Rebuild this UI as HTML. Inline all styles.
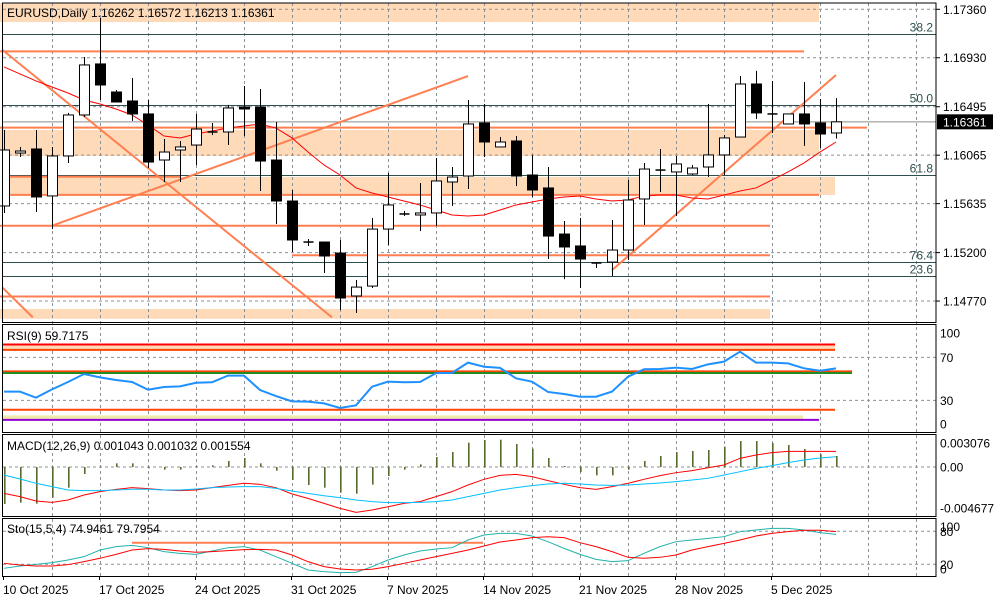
<!DOCTYPE html>
<html><head><meta charset="utf-8"><style>
html,body{margin:0;padding:0;background:#fff;}
svg{display:block;font-family:"Liberation Sans",sans-serif;}
</style></head><body>
<svg id="c" width="1000" height="600" viewBox="0 0 1000 600" xmlns="http://www.w3.org/2000/svg"></svg>
<script>
// ---- price data (per daily candle) ----
const opens=[1.15614,1.16084,1.16120,1.15703,1.16058,1.16422,1.16875,1.16626,1.16546,1.16431,1.16022,1.16111,1.16155,1.16271,1.16271,1.16493,1.16493,1.16022,1.15658,1.15294,1.15294,1.15196,1.14815,1.14903,1.15409,1.15543,1.15534,1.15552,1.15827,1.15880,1.16351,1.16138,1.16191,1.15889,1.15774,1.15365,1.15259,1.15108,1.15116,1.15223,1.15676,1.15933,1.15916,1.15898,1.15960,1.16067,1.16226,1.16697,1.16431,1.16342,1.16431,1.16351,1.16262];
const highs=[1.16289,1.16138,1.16289,1.16138,1.16440,1.16937,1.17283,1.16644,1.16750,1.16555,1.16209,1.16191,1.16431,1.16351,1.16511,1.16679,1.16653,1.16360,1.15756,1.15321,1.15294,1.15312,1.14957,1.15507,1.15907,1.15569,1.15818,1.16040,1.15960,1.16555,1.16519,1.16226,1.16235,1.16067,1.15960,1.15481,1.15507,1.15108,1.15489,1.15845,1.15996,1.16120,1.16058,1.15978,1.16519,1.16244,1.16768,1.16813,1.16724,1.16431,1.16715,1.16564,1.16572];
const lows=[1.15552,1.16049,1.15560,1.15409,1.15996,1.16404,1.16555,1.16537,1.16369,1.15951,1.15827,1.15827,1.15978,1.16244,1.16155,1.16235,1.15747,1.15454,1.15205,1.15259,1.15019,1.14690,1.14664,1.14886,1.15267,1.15525,1.15392,1.15436,1.15614,1.15765,1.16049,1.16138,1.15791,1.15694,1.15143,1.14965,1.14886,1.15063,1.14992,1.15134,1.15445,1.15738,1.15525,1.15889,1.15871,1.15889,1.16226,1.16386,1.16262,1.16342,1.16147,1.16129,1.16213];
const closes=[1.16111,1.16102,1.15694,1.16058,1.16422,1.16866,1.16688,1.16537,1.16431,1.16004,1.16093,1.16138,1.16297,1.16262,1.16484,1.16475,1.16013,1.15658,1.15312,1.15294,1.15170,1.14797,1.14894,1.15409,1.15623,1.15543,1.15552,1.15836,1.15871,1.16342,1.16182,1.16182,1.15880,1.15756,1.15347,1.15250,1.15143,1.15108,1.15223,1.15667,1.15942,1.15933,1.15987,1.15951,1.16067,1.16218,1.16697,1.16440,1.16431,1.16431,1.16342,1.16253,1.16361];
const maValues=[1.16848,1.16786,1.16724,1.16670,1.16617,1.16555,1.16519,1.16475,1.16422,1.16333,1.16235,1.16218,1.16253,1.16280,1.16306,1.16324,1.16342,1.16306,1.16218,1.16093,1.15978,1.15889,1.15774,1.15729,1.15694,1.15658,1.15623,1.15578,1.15534,1.15525,1.15534,1.15578,1.15623,1.15649,1.15676,1.15694,1.15703,1.15676,1.15658,1.15667,1.15703,1.15711,1.15711,1.15685,1.15676,1.15711,1.15747,1.15774,1.15845,1.15916,1.15996,1.16093,1.16182];
const priceTicks=[1.17360,1.16930,1.16495,1.16065,1.15635,1.15200,1.14770];
const lastPrice=1.16361;
// ---- indicators ----
const rsiValues=[38.1,38.1,32.5,40.2,47.1,54.5,51.4,48.9,47.1,39.9,42.4,43.0,46.4,46.8,53.0,53.0,39.6,34.0,29.1,28.8,27.2,22.9,25.4,42.7,47.4,46.8,47.1,55.3,55.6,65.1,61.3,60.2,50.5,47.4,37.8,35.9,33.4,33.4,38.1,52.0,58.9,59.2,60.4,59.2,63.5,66.0,75.3,65.1,65.1,64.4,59.8,57.6,59.7];
const rsiTicks=[100,70,30,0];
const macdHist=[-0.00474,-0.00457,-0.00470,-0.00393,-0.00265,-0.00090,0.00002,0.00047,0.00047,-0.00017,-0.00034,-0.00034,0.00009,0.00021,0.00077,0.00115,0.00047,-0.00047,-0.00167,-0.00231,-0.00265,-0.00329,-0.00342,-0.00226,-0.00115,-0.00034,0.00034,0.00128,0.00192,0.00312,0.00346,0.00350,0.00295,0.00235,0.00115,0.00013,-0.00064,-0.00107,-0.00107,-0.00034,0.00077,0.00141,0.00192,0.00205,0.00218,0.00261,0.00333,0.00333,0.00308,0.00282,0.00231,0.00167,0.00141];
const macdRed=[-0.00338,-0.00380,-0.00436,-0.00453,-0.00423,-0.00359,-0.00316,-0.00286,-0.00265,-0.00278,-0.00295,-0.00303,-0.00295,-0.00265,-0.00235,-0.00209,-0.00222,-0.00265,-0.00346,-0.00402,-0.00466,-0.00530,-0.00581,-0.00551,-0.00509,-0.00466,-0.00444,-0.00380,-0.00316,-0.00231,-0.00158,-0.00107,-0.00094,-0.00124,-0.00175,-0.00222,-0.00265,-0.00286,-0.00252,-0.00209,-0.00158,-0.00111,-0.00073,-0.00047,-0.00009,0.00026,0.00111,0.00154,0.00184,0.00201,0.00201,0.00201,0.00201];
const macdBlue=[-0.00103,-0.00154,-0.00209,-0.00252,-0.00295,-0.00303,-0.00303,-0.00295,-0.00286,-0.00286,-0.00295,-0.00295,-0.00282,-0.00265,-0.00256,-0.00252,-0.00252,-0.00274,-0.00308,-0.00338,-0.00368,-0.00393,-0.00423,-0.00444,-0.00457,-0.00457,-0.00453,-0.00444,-0.00423,-0.00380,-0.00338,-0.00295,-0.00265,-0.00239,-0.00218,-0.00209,-0.00218,-0.00231,-0.00235,-0.00231,-0.00218,-0.00205,-0.00188,-0.00167,-0.00145,-0.00103,-0.00060,-0.00017,0.00017,0.00056,0.00090,0.00115,0.00132];
const macdTicks=[0.003076,0.00,-0.004677];
const macdTickLabels=["0.003076","0.00","-0.004677"];
const stochMain=[12.7,16.9,19.9,23.0,27.8,33.9,46.0,52.1,54.5,50.2,43.0,39.9,38.1,44.2,50.2,52.1,46.0,33.9,21.8,9.6,6.6,4.8,5.4,15.7,27.8,36.9,44.2,47.8,50.2,64.2,73.3,76.3,76.3,71.5,61.1,49.0,38.1,29.0,24.8,26.6,39.9,52.1,61.1,64.2,67.2,70.2,79.3,82.4,85.4,85.4,82.4,77.5,74.5];
const stochSignal=[21.8,18.7,16.9,16.9,19.3,24.8,30.9,38.1,46.0,48.4,47.2,44.2,41.8,43.0,44.8,46.6,47.2,46.0,36.9,24.8,15.7,11.5,9.6,10.9,15.7,21.8,27.8,33.9,39.9,46.0,53.3,60.5,64.2,68.4,70.2,68.4,59.3,52.1,43.0,32.7,30.9,32.7,36.9,46.0,52.1,58.1,64.2,71.5,76.3,79.3,81.8,81.8,79.3];
const stochTicks=[100,80,20,0];
const dateLabels=["10 Oct 2025","17 Oct 2025","24 Oct 2025","31 Oct 2025","7 Nov 2025","14 Nov 2025","21 Nov 2025","28 Nov 2025","5 Dec 2025"];

// ---- axis functions ----
const AX=936;
const xI=i=>4+16*i;
const yP=p=>9.3+(1.1736-p)/0.00435*49;
const yR=v=>432.6-v*1.075;
const yM=v=>467-v*7800;
const yS=v=>575.3-v*0.55;

const svg=document.getElementById('c');
const NS='http://www.w3.org/2000/svg';
function mk(tag,attrs,parent){const e=document.createElementNS(NS,tag);for(const k in attrs)e.setAttribute(k,attrs[k]);(parent||svg).appendChild(e);return e;}
function txt(s,x,y,attrs){const t=mk('text',Object.assign({x:x,y:y,'font-size':12,fill:'#000'},attrs||{}));t.textContent=s;return t;}
function poly(vals,yf){return vals.map((v,i)=>xI(i)+','+yf(v).toFixed(2)).join(' ');}

// ---- main panel: bands ----
const bands=[[1.17418,1.17247,0,819],[1.16288,1.16058,0,819],[1.15872,1.15711,0,835],[1.14700,1.14612,0,770]];
const gBands=mk('g',{});


bands.forEach(b=>{const r=mk('rect',{x:b[2],y:yP(b[0]),width:b[3]-b[2],height:yP(b[1])-yP(b[0]),fill:'#FFDAB9'},gBands);

});

// grid
const gGrid=mk('g',{stroke:'#8a929a','stroke-width':1,'stroke-dasharray':'3,3'});


priceTicks.forEach(p=>mk('line',{x1:3,x2:AX,y1:yP(p),y2:yP(p)},gGrid));
[70,30].forEach(v=>mk('line',{x1:3,x2:AX,y1:yR(v),y2:yR(v)},gGrid));
mk('line',{x1:3,x2:AX,y1:yM(0),y2:yM(0)},gGrid);
[80,20].forEach(v=>mk('line',{x1:3,x2:AX,y1:yS(v),y2:yS(v)},gGrid));
for(let k=0;k<19;k++){const x=52+48*k;if(x<AX)mk('line',{x1:x+0.5,x2:x+0.5,y1:3,y2:576},gGrid);}

// fib lines
const fibLevels=[[1.17137,'38.2'],[1.16510,'50.0'],[1.15892,'61.8'],[1.15118,'76.4'],[1.14995,'23.6']];
const gFib=mk('g',{});


fibLevels.forEach(f=>{const y=Math.round(yP(f[0]))+0.5;
const l=mk('line',{x1:3,x2:AX,y1:y,y2:y,stroke:'#2F4F4F','stroke-width':1},gFib);


const t=txt(f[1],933,y-3,{'text-anchor':'end',fill:'#2F4F4F'});gFib.appendChild(t);

});

// orange horizontal lines
const hLines=[[1.16986,0,804],[1.16310,0,867],[1.15874,0,180],[1.15712,0,819],[1.15439,0,770],[1.15177,292,770],[1.14810,0,770]];
const gH=mk('g',{stroke:'#FF7F50','stroke-width':2});


hLines.forEach(h=>{const l=mk('line',{x1:h[1],x2:h[2],y1:yP(h[0]),y2:yP(h[0])},gH);

});

// current price line
const cp=mk('line',{x1:3,x2:AX,y1:yP(lastPrice),y2:yP(lastPrice),stroke:'#8c8c8c','stroke-width':1});



// trendlines (anchored at candle index / price)
const trends=[[-0.1,1.17000,20.5,1.14625],[-0.1,1.14890,1.8,1.14625],[3,1.15439,29,1.16767],[3805,0,0,0]];
const gT=mk('g',{stroke:'#FF7F50','stroke-width':2});


[[-0.1,1.17000,20.5,1.14625],[-0.1,1.14890,1.8,1.14625],[3,1.15439,29,1.16767],[38,1.15044,52,1.16777]].forEach(t=>{
const l=mk('line',{x1:xI(t[0]),y1:yP(t[1]),x2:xI(t[2]),y2:yP(t[3])},gT);

});

// MA
const ma=mk('polyline',{points:poly(maValues,yP),fill:'none',stroke:'#FF0000','stroke-width':1});



// candles
const gC=mk('g',{});


opens.forEach((o,i)=>{const c=closes[i],x=xI(i);
const g=mk('g',{},gC);


mk('line',{x1:x+0.5,x2:x+0.5,y1:yP(highs[i]),y2:yP(lows[i]),stroke:'#000','stroke-width':1},g);
const top=Math.min(yP(o),yP(c)),h=Math.abs(yP(o)-yP(c));
if(h<1.2){mk('line',{x1:x-4.5,x2:x+5.5,y1:top,y2:top,stroke:'#000','stroke-width':1.5},g);}
else mk('rect',{x:x-4.5,y:top,width:10,height:h,fill:c<o?'#000':'#fff',stroke:'#000','stroke-width':1},g);
});

// header
const hd=txt('EURUSD,Daily  1.16262 1.16572 1.16213 1.16361',7,17,{'xml:space':'preserve'});



// ---- RSI panel ----
const rsiLevels=[[82,'#FF0000',835],[77,'#FF4500',835],[57,'#FF4500',852],[55.4,'#228B22',852],[21.3,'#FF4500',835],[11.8,'#9400D3',819]];
mk('rect',{x:3,y:yR(82),width:832,height:yR(77)-yR(82),fill:'#FFDAB9'});
mk('rect',{x:3,y:yR(16),width:800,height:yR(12)-yR(16),fill:'#EEE8AA'});
const gRL=mk('g',{});


rsiLevels.forEach(r=>mk('line',{x1:3,x2:r[2],y1:yR(r[0]),y2:yR(r[0]),stroke:r[1],'stroke-width':2},gRL));
const rsi=mk('polyline',{points:poly(rsiValues,yR),fill:'none',stroke:'#1E90FF','stroke-width':2});


const rt=txt('RSI(9) 59.7175',7,340);



// ---- MACD panel ----
const gMH=mk('g',{fill:'#556B2F'});


macdHist.forEach((v,i)=>{const y0=yM(0),y1=yM(v);
const b=mk('rect',{x:xI(i),y:Math.min(y0,y1),width:1.6,height:Math.max(0.5,Math.abs(y1-y0))},gMH);

});
const mr=mk('polyline',{points:poly(macdRed,yM),fill:'none',stroke:'#FF0000','stroke-width':1});


const mb=mk('polyline',{points:poly(macdBlue,yM),fill:'none',stroke:'#00BFFF','stroke-width':1});


const mt=txt('MACD(12,26,9) 0.001043 0.001032 0.001554',7,450);



// ---- Stochastic panel ----
const so=mk('line',{x1:132,x2:483,y1:542.7,y2:542.7,stroke:'#FF7F50','stroke-width':2});


const sm=mk('polyline',{points:poly(stochMain,yS),fill:'none',stroke:'#20B2AA','stroke-width':1});


const ss=mk('polyline',{points:poly(stochSignal,yS),fill:'none',stroke:'#FF0000','stroke-width':1});


const st=txt('Sto(15,5,4) 74.9461 79.7954',7,533);



// ---- white out right-axis area & frames ----
mk('rect',{x:AX+1,y:0,width:1000-AX,height:600,fill:'#fff'});
const gF=mk('g',{stroke:'#000','stroke-width':1,fill:'none'});


[[3,322.5],[324.5,432.5],[434.5,516.5],[518.5,576.5]].forEach(p=>mk('rect',{x:2.5,y:p[0],width:AX-2.5,height:p[1]-p[0]},gF));

// right axis labels
const gA=mk('g',{});


priceTicks.forEach(p=>{const y=yP(p);mk('line',{x1:AX,x2:AX+4,y1:y,y2:y,stroke:'#000'},gA);
const t=txt(p.toFixed(5),943,y+4.5);gA.appendChild(t);

});
const tag=mk('rect',{x:AX+1,y:yP(lastPrice)-7.5,width:56,height:15,fill:'#000'});


txt(lastPrice.toFixed(5),943,yP(lastPrice)+4.5,{fill:'#fff'});
rsiTicks.forEach(v=>{const y=[333,357.3,400.3,424][rsiTicks.indexOf(v)];
const t=txt(String(v),940,y+4.5);});
macdTicks.forEach((v,k)=>{const y=k==2?508:yM(v);
const t=txt(macdTickLabels[k],940,y+4.5);});
stochTicks.forEach((v,k)=>{const y=[526.7,531.3,564.3,569][k];
const t=txt(String(v),940,y+4.5);});

// date axis
const gD=mk('g',{});


dateLabels.forEach((d,k)=>{const x=3+96*k;mk('line',{x1:x+0.5,x2:x+0.5,y1:576,y2:580,stroke:'#000'},gD);
const t=txt(d,x,594);gD.appendChild(t);

});
</script>
</body></html>
